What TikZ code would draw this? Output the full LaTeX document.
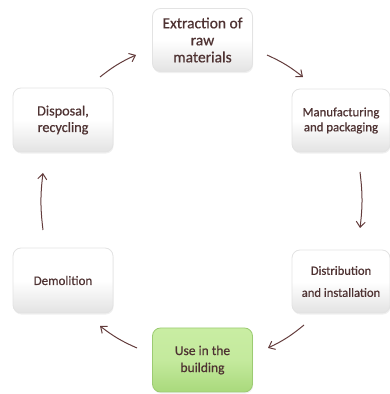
\documentclass[tikz,border=0pt]{standalone}
\usepackage{fontspec}
\setmainfont{Carlito}[FakeBold=0.6]
\usetikzlibrary{arrows.meta,shadows,calc}
\definecolor{txt}{HTML}{4E3232}
\definecolor{arr}{HTML}{633C3C}
\definecolor{gtop}{HTML}{C9EDA3}
\definecolor{gbot}{HTML}{A9D97C}
\definecolor{gedge}{HTML}{9CCB72}
\begin{document}
\begin{tikzpicture}[x=1pt,y=1pt,
  stagebox/.style={rectangle, rounded corners=8pt, minimum width=100pt, minimum height=63pt,
    inner sep=2pt, align=center, text=txt, draw=gray!22, line width=0.8pt,
    top color=white, bottom color=gray!22, middle color=white,
    drop shadow={opacity=0.12, shadow xshift=0.6pt, shadow yshift=-1.6pt}},
  greenbox/.style={stagebox, top color=gtop, bottom color=gbot, middle color=gtop!85!gbot, draw=gedge},
  flow/.style={draw=arr, line width=1pt, -{Straight Barb[length=5.5pt,width=9pt,line width=1pt]}, bend left=7}]
\useasboundingbox (0,0) rectangle (390,394);
\node[stagebox, font=\fontsize{15.5}{17}\selectfont] (ext) at (202.5,354) {Extraction of\\raw\\materials};
\node[stagebox, font=\fontsize{12.8}{15}\selectfont, minimum width=98pt] (man) at (341,273.5) {Manufacturing\\and packaging};
\node[stagebox, font=\fontsize{12.6}{22}\selectfont, minimum width=98pt] (dist) at (341,112.5) {Distribution\\and installation};
\node[greenbox, font=\fontsize{13.5}{17}\selectfont, minimum height=64pt] (use) at (202.5,34) {Use in the\\building};
\node[stagebox, font=\fontsize{13}{15}\selectfont, minimum height=65pt] (dem) at (63,113.5) {Demolition};
\node[stagebox, font=\fontsize{14.2}{16.5}\selectfont, minimum height=64pt] (disp) at (63,274) {Disposal,\\recycling};
\draw[flow] ($(disp.center)+(37,43)$) to ($(ext.center)+(-66.5,-15)$);
\draw[flow] ($(ext.center)+(64.5,-15)$) to ($(man.center)+(-38,43.5)$);
\draw[flow] ($(man.center)+(19,-51.5)$) to ($(dist.center)+(19,53.5)$);
\draw[flow] ($(dist.center)+(-37,-43.5)$) to ($(use.center)+(65.5,12)$);
\draw[flow] ($(use.center)+(-65.5,12)$) to ($(dem.center)+(37,-45.5)$);
\draw[flow] ($(dem.center)+(-20,50.5)$) to ($(disp.center)+(-20,-53)$);
\end{tikzpicture}
\end{document}
